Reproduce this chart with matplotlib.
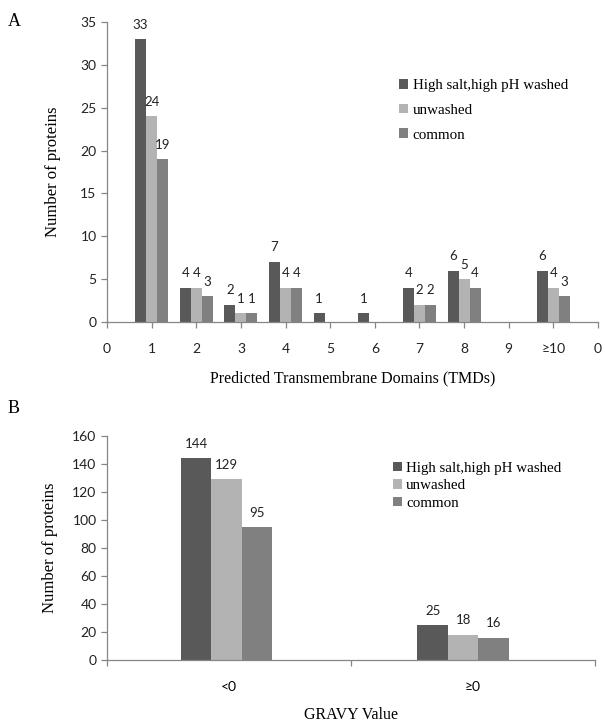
import matplotlib
matplotlib.use("Agg")
import matplotlib.pyplot as plt
from matplotlib.patches import Patch
import numpy as np

# Panel A data
tmd_labels = ['0', '1', '2', '3', '4', '5', '6', '7', '8', '9', '\u226510', '0']
tmd_groups = [1, 2, 3, 4, 5, 6, 7, 8, 9, 10]
washed_a = [33, 4, 2, 7, 1, 1, 4, 6, 0, 6]
unwashed_a = [24, 4, 1, 4, 0, 0, 2, 5, 0, 4]
common_a = [19, 3, 1, 4, 0, 0, 2, 4, 0, 3]

# Panel B data
gravy_labels = ['<0', '\u22650']
washed_b = [144, 25]
unwashed_b = [129, 18]
common_b = [95, 16]

series_names = ['High salt,high pH washed', 'unwashed', 'common']
colors = ['#595959', '#b3b3b3', '#808080']

SANS = ['Lato', 'DejaVu Sans']
SERIF = ['Liberation Serif', 'DejaVu Serif']
axis_col = '#868686'

fig = plt.figure(figsize=(6.05, 7.22), dpi=100)

def style_axes(ax):
    for s in ['top', 'right']:
        ax.spines[s].set_visible(False)
    for s in ['left', 'bottom']:
        ax.spines[s].set_color(axis_col)
        ax.spines[s].set_linewidth(0.9)
    ax.tick_params(axis='both', colors=axis_col, labelcolor='#222222', length=4, width=0.9)

# ---------- Panel A ----------
axA = fig.add_axes([107/605, 1-322/722, 491/605, 300/722])
w = 0.247
x = np.array(tmd_groups, dtype=float)
for i, (vals, c) in enumerate(zip([washed_a, unwashed_a, common_a], colors)):
    xs = x + (i - 1) * w
    axA.bar(xs, vals, width=w, color=c, edgecolor='none')
    for xi, v in zip(xs, vals):
        if v > 0:
            axA.text(xi, v + 1.0, str(v), ha='center', va='bottom', fontsize=9.5, family=SANS, color='#222222')
axA.set_xlim(0, 11)
axA.set_ylim(0, 35)
axA.set_yticks(range(0, 36, 5))
axA.set_xticks(range(12))
axA.set_xticklabels(tmd_labels)
style_axes(axA)
for lab in axA.get_xticklabels() + axA.get_yticklabels():
    lab.set_family(SANS)
    lab.set_fontsize(10)
axA.tick_params(axis='x', pad=11)
axA.set_ylabel('Number of proteins', family=SERIF, fontsize=12, labelpad=14)
axA.set_xlabel('Predicted Transmembrane Domains (TMDs)', family=SERIF, fontsize=11.5, labelpad=11)
handles = [Patch(facecolor=c, edgecolor='none') for c in colors]
axA.legend(handles, series_names, loc='upper left', bbox_to_anchor=(0.58, 0.835), frameon=False,
           prop={'family': SERIF, 'size': 10.8}, handlelength=0.6, handleheight=0.6,
           handletextpad=0.3, labelspacing=0.78, borderpad=0)
fig.text(8/605, 1-22/722, 'A', family=SERIF, fontsize=13, va='center', ha='left')

# ---------- Panel B ----------
axB = fig.add_axes([107/605, 1-660/722, 488/605, 224/722])
wb = 0.125
xb = np.array([0.49, 1.46])
for i, (vals, c) in enumerate(zip([washed_b, unwashed_b, common_b], colors)):
    xs = xb + (i - 1) * wb
    axB.bar(xs, vals, width=wb, color=c, edgecolor='none')
    for xi, v in zip(xs, vals):
        axB.text(xi, v + 6, str(v), ha='center', va='bottom', fontsize=9.5, family=SANS, color='#222222')
axB.set_xlim(0, 2)
axB.set_ylim(0, 160)
axB.set_yticks(range(0, 161, 20))
axB.set_xticks([0, 1, 2])
axB.set_xticklabels([])
axB.set_xticks([0.5, 1.5], minor=True)
axB.set_xticklabels(gravy_labels, minor=True)
style_axes(axB)
axB.tick_params(axis='x', which='minor', length=0, pad=15)
for lab in axB.get_xticklabels(minor=True) + axB.get_yticklabels():
    lab.set_family(SANS)
    lab.set_fontsize(10)
axB.set_ylabel('Number of proteins', family=SERIF, fontsize=12, labelpad=10)
axB.set_xlabel('GRAVY Value', family=SERIF, fontsize=11.5, labelpad=10)
axB.legend(handles, series_names, loc='upper left', bbox_to_anchor=(0.57, 0.918), frameon=False,
           prop={'family': SERIF, 'size': 10.8}, handlelength=0.6, handleheight=0.6,
           handletextpad=0.3, labelspacing=0.3, borderpad=0)
fig.text(8/605, 1-408/722, 'B', family=SERIF, fontsize=13, va='center', ha='left')

fig.savefig('out.png', dpi=100)
